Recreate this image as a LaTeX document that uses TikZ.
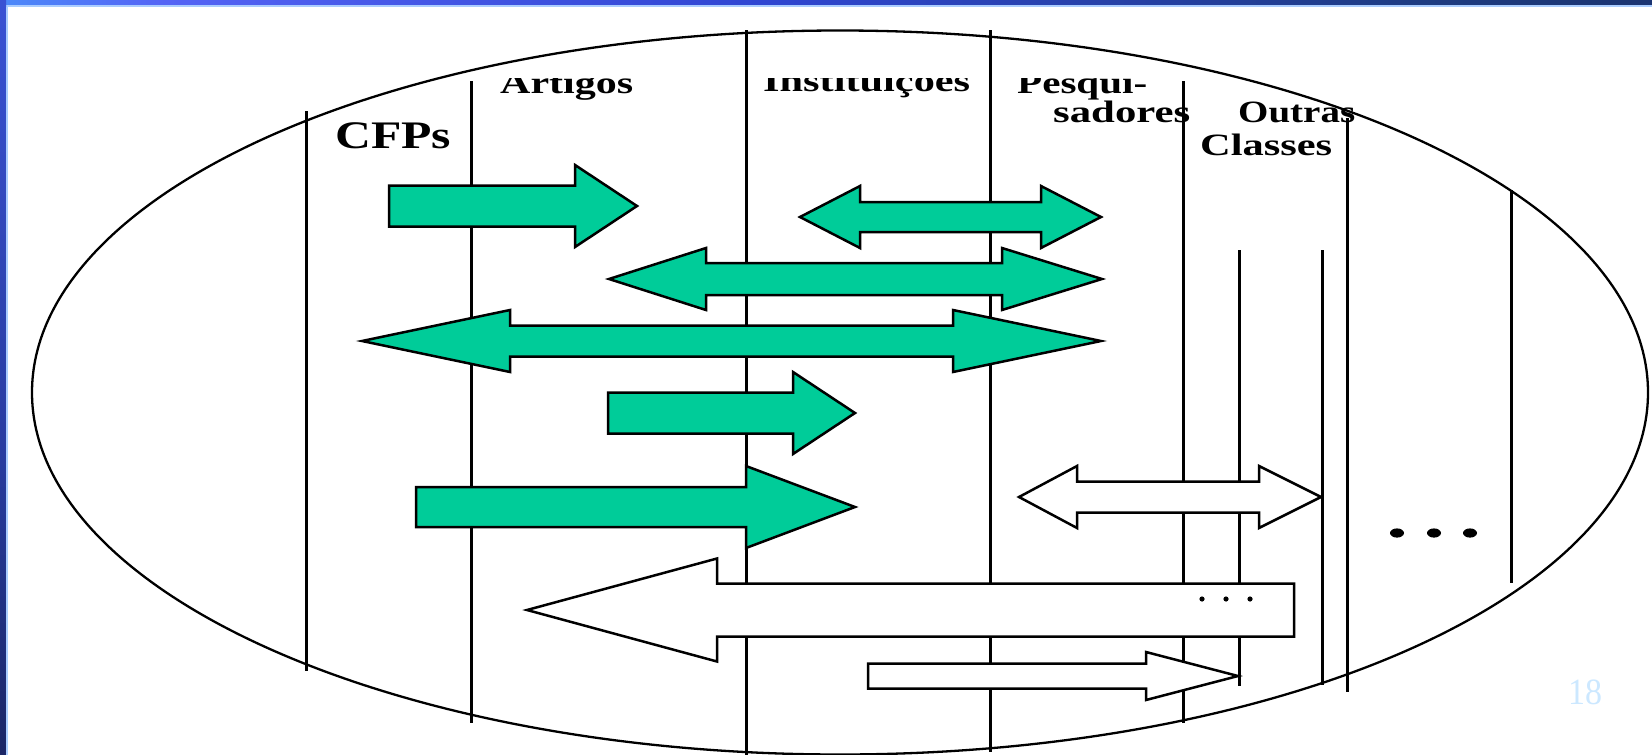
\documentclass[tikz,border=0pt]{standalone}
\usepackage{fontspec}
\setmainfont{Liberation Serif}
\usepackage{graphicx}

\definecolor{arrowgreen}{RGB}{0,204,153}
\definecolor{pagenum}{RGB}{204,232,255}
\definecolor{barA}{RGB}{64,100,255}
\definecolor{barB}{RGB}{64,190,255}
\definecolor{barC}{RGB}{84,100,245}
\definecolor{barD}{RGB}{48,70,210}
\definecolor{barE}{RGB}{30,60,130}
\definecolor{barF}{RGB}{14,22,54}
\definecolor{sideTop}{RGB}{72,100,255}
\definecolor{sideMid}{RGB}{40,60,160}
\definecolor{sideBot}{RGB}{10,10,30}
\definecolor{rimline}{RGB}{170,205,255}

\pgfdeclarehorizontalshading{topbar}{100bp}{color(0bp)=(barA); color(18bp)=(barB); color(30bp)=(barC); color(48bp)=(barD); color(68bp)=(barE); color(100bp)=(barF)}
\pgfdeclareverticalshading{sidebar}{100bp}{color(0bp)=(sideBot); color(45bp)=(sideMid); color(100bp)=(sideTop)}

% block arrows: style, x positions, centre line, shaft and head half-heights
\newcommand{\rblock}[7]{\draw[#1] ({#2},{#5-#6}) -- ({#3},{#5-#6}) -- ({#3},{#5-#7}) -- ({#4},{#5}) -- ({#3},{#5+#7}) -- ({#3},{#5+#6}) -- ({#2},{#5+#6}) -- cycle;}
\newcommand{\lblock}[7]{\draw[#1] ({#2},{#5}) -- ({#3},{#5-#7}) -- ({#3},{#5-#6}) -- ({#4},{#5-#6}) -- ({#4},{#5+#6}) -- ({#3},{#5+#6}) -- ({#3},{#5+#7}) -- cycle;}
\newcommand{\dblock}[8]{\draw[#1] ({#2},{#6}) -- ({#3},{#6-#8}) -- ({#3},{#6-#7}) -- ({#4},{#6-#7}) -- ({#4},{#6-#8}) -- ({#5},{#6}) -- ({#4},{#6+#8}) -- ({#4},{#6+#7}) -- ({#3},{#6+#7}) -- ({#3},{#6+#8}) -- cycle;}
\newcommand{\wide}[2]{\resizebox{#1pt}{\height}{#2}}

\begin{document}
\begin{tikzpicture}[x=1pt,y=-1pt,
  divider/.style={line width=3pt},
  rim/.style={line width=2.3pt},
  greenblock/.style={fill=arrowgreen,draw=black,line width=2.5pt},
  whiteblock/.style={fill=white,draw=black,line width=2.5pt},
  lbl/.style={anchor=base west,inner sep=0pt},
  big/.style={font=\fontsize{39}{41}\selectfont\bfseries},
  small/.style={font=\fontsize{31}{33}\selectfont\bfseries}]
\useasboundingbox (0,0) rectangle (1652,755);
\fill[white] (0,0) rectangle (1652,755);

% frame of the slide
\shade[shading=topbar] (0,0) rectangle (1652,5);
\fill[rimline] (6,5) rectangle (1652,6.5);
\shade[shading=sidebar] (0,0) rectangle (6,755);
\fill[rimline] (6,6.5) rectangle (7.5,755);

% the outer ellipse
\draw[rim] (840,392.5) ellipse [x radius=808, y radius=362];

% column dividers
\draw[divider] (306,111) -- (306,671);
\draw[divider] (471,81) -- (471,723);
\draw[divider] (746,30) -- (746,755);
\draw[divider] (990,30) -- (990,752);
\draw[divider] (1183,81) -- (1183,723);
\draw[divider] (1239,250) -- (1239,686);
\draw[divider] (1322,250) -- (1322,685);
\draw[divider] (1347,118) -- (1347,692);
\draw[divider] (1511,190) -- (1511,583);

% column headings
\node[lbl,big] (cfps) at (335,148) {\wide{116}{CFPs}};
\begin{scope}
  \clip (0,78.5) rectangle (1652,200);
  \node[lbl,small] (artigos) at (500,93) {\wide{133}{Artigos}};
  \node[lbl,small] (inst) at (763,91) {\wide{207}{Instituições}};
  \node[lbl,small] (pesq) at (1017,93) {\wide{130}{Pesqui-}};
\end{scope}
\node[lbl,small] (sad) at (1053,122) {\wide{137}{sadores}};
\node[lbl,small] (outras) at (1238,122) {\wide{117}{Outras}};
\node[lbl,small] (classes) at (1200,155) {\wide{132}{Classes}};

% relationships between classes
\rblock{greenblock}{389}{575}{637}{206}{20.5}{41}
\dblock{greenblock}{800}{860}{1041}{1101}{217}{15}{31}
\dblock{greenblock}{609}{706}{1002}{1102}{279}{16}{31}
\dblock{greenblock}{362}{510}{953}{1101}{341}{15.5}{31}
\rblock{greenblock}{608}{793}{855}{413}{20.5}{41}
\rblock{greenblock}{416}{746}{855}{507}{20}{41}
\dblock{whiteblock}{1019}{1077}{1259}{1321}{497}{15.5}{31}
\lblock{whiteblock}{527}{717}{1294}{610}{26.5}{51.5}
\rblock{whiteblock}{868}{1146}{1238}{676}{12.5}{24}

% ellipses for further classes
\foreach \dx in {1202,1226,1250} \fill (\dx,599) circle [radius=2.6];
\foreach \dx in {1397,1434,1470} \fill (\dx,533) ellipse [x radius=7, y radius=4.6];

% slide number
\node[lbl,font=\fontsize{37}{40}\selectfont,text=pagenum] (num) at (1568,704) {\wide{34}{18}};
\end{tikzpicture}
\end{document}
